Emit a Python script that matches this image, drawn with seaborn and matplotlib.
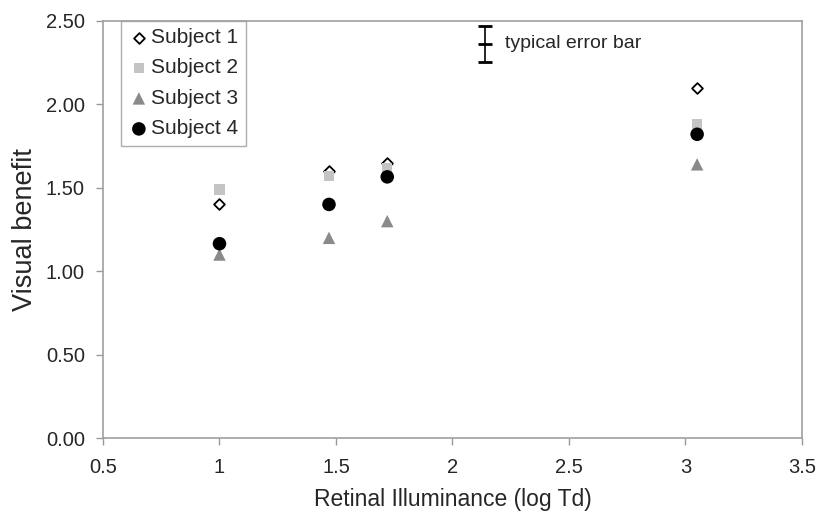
import numpy as np
import pandas as pd
import matplotlib
matplotlib.use("Agg")
import matplotlib.pyplot as plt
import seaborn as sns

sns.set_style("white")
plt.rcParams['font.family'] = ['Liberation Sans', 'DejaVu Sans']

illuminance = [1.0, 1.47, 1.72, 3.05]
subject1 = [1.40, 1.60, 1.65, 2.10]
subject2 = [1.49, 1.57, 1.62, 1.88]
subject3 = [1.10, 1.20, 1.30, 1.64]
subject4 = [1.165, 1.40, 1.565, 1.82]
labels = ["Subject 1", "Subject 2", "Subject 3", "Subject 4"]
err_x = 2.14
err_y = 2.36
err_half = 0.11

fig = plt.figure(figsize=(8.18, 5.16), dpi=100)
ax = fig.add_axes([0.1259, 0.1506, 0.8545, 0.8093])

styles = [
    dict(marker="D", s=30, facecolor="white", edgecolor="black", linewidth=1.3),
    dict(marker="s", s=55, color="#c4c4c4", edgecolor="none"),
    dict(marker="^", s=80, color="#8a8a8a", edgecolor="none"),
    dict(marker="o", s=95, color="black", edgecolor="none"),
]
for vals, lab, st in zip([subject1, subject2, subject3, subject4], labels, styles):
    df = pd.DataFrame({"x": illuminance, "y": vals})
    sns.scatterplot(data=df, x="x", y="y", ax=ax, label=lab, zorder=3, **st)

ax.errorbar([err_x], [err_y], yerr=[err_half], fmt="_", color="black",
            capsize=5, elinewidth=1.2, capthick=1.2, markersize=10, markeredgewidth=2)
ax.text(err_x + 0.085, err_y + 0.005, "typical error bar", fontsize=14, va="center", ha="left")

ax.set_xlim(0.5, 3.5)
ax.set_ylim(0, 2.5)
ax.set_xticks([0.5, 1, 1.5, 2, 2.5, 3, 3.5])
ax.set_xticklabels(["0.5", "1", "1.5", "2", "2.5", "3", "3.5"])
ax.set_yticks([0, 0.5, 1, 1.5, 2, 2.5])
ax.set_yticklabels(["0.00", "0.50", "1.00", "1.50", "2.00", "2.50"])
ax.tick_params(axis="both", labelsize=14.5, length=5, width=1, color="#999999",
               direction="out", bottom=True, left=True)
ax.tick_params(axis="x", pad=9)
ax.tick_params(axis="y", pad=8)
ax.set_xlabel("Retinal Illuminance (log Td)", fontsize=16.5, labelpad=8)
ax.set_ylabel("Visual benefit", fontsize=19.5, labelpad=6)
for sp in ax.spines.values():
    sp.set_color("#a0a0a0")
    sp.set_linewidth(1.2)

leg = ax.legend(loc="upper left", bbox_to_anchor=(0.026, 1.0), fontsize=15,
                frameon=True, fancybox=False, edgecolor="#999999",
                handletextpad=0.1, handlelength=1.0, borderpad=0.35,
                labelspacing=0.55, borderaxespad=0)
leg.get_frame().set_linewidth(1.0)

fig.savefig("out.png", dpi=100)
